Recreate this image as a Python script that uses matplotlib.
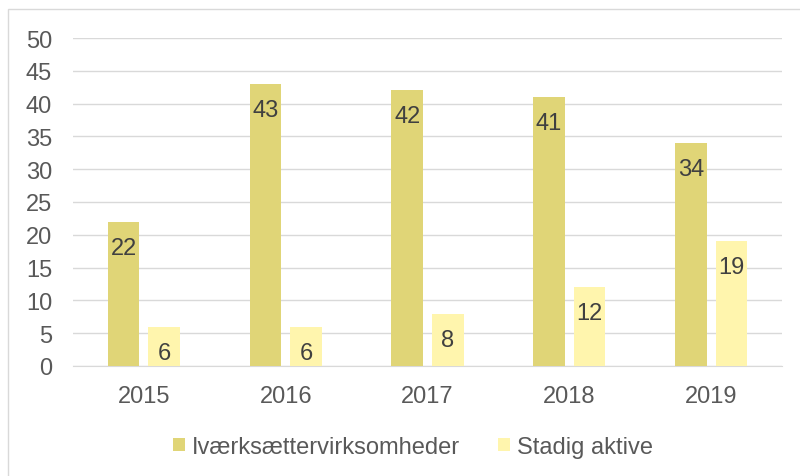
import numpy as np
import matplotlib.pyplot as plt
from matplotlib.patches import Rectangle

years = ['2015', '2016', '2017', '2018', '2019']
ivaerksaetter = [22, 43, 42, 41, 34]
stadig_aktive = [6, 6, 8, 12, 19]

plt.rcParams['font.family'] = ['Liberation Sans', 'DejaVu Sans']
fs = 17

fig = plt.figure(figsize=(8, 4.77), dpi=100)
ax = fig.add_axes([73 / 800, 1 - 367 / 477, 709 / 800, 328 / 477])

# chart frame
fig.patches.append(Rectangle((8 / 800, -0.05), 1.1, 1 - 10 / 477 + 0.05,
                             transform=fig.transFigure, fill=False,
                             edgecolor='#D9D9D9', linewidth=1))

x = np.arange(len(years))
w = 0.222
off = 0.143
b1 = ax.bar(x - off, ivaerksaetter, w, color='#E0D577', label='Iværksættervirksomheder', zorder=3)
b2 = ax.bar(x + off, stadig_aktive, w, color='#FFF5AD', label='Stadig aktive', zorder=3)

for bars, vals in [(b1, ivaerksaetter), (b2, stadig_aktive)]:
    for rect, v in zip(bars, vals):
        ax.annotate(str(v), (rect.get_x() + rect.get_width() / 2, v),
                    xytext=(0, -26), textcoords='offset pixels',
                    ha='center', va='center', fontsize=fs, color='#404040', zorder=4)

ax.set_xlim(-0.5, len(years) - 0.5)
ax.set_ylim(0, 50)
ax.set_yticks(range(0, 51, 5))
ax.set_xticks(x)
ax.set_xticklabels(years)
ax.tick_params(axis='both', length=0, labelsize=fs, labelcolor='#595959')
ax.tick_params(axis='y', pad=15)
ax.tick_params(axis='x', pad=14)
ax.grid(axis='y', color='#D9D9D9', linewidth=1, zorder=0)
for s in ['top', 'right', 'left']:
    ax.spines[s].set_visible(False)
ax.spines['bottom'].set_color('#D9D9D9')

fig.legend(handles=[b1, b2], loc='center', bbox_to_anchor=(413 / 800, 1 - 448 / 477),
           ncol=2, frameon=False, fontsize=fs, labelcolor='#595959',
           handlelength=0.51, handleheight=0.51, handletextpad=0.3,
           columnspacing=1.6, borderpad=0, borderaxespad=0)

fig.savefig('out.png', dpi=100)
